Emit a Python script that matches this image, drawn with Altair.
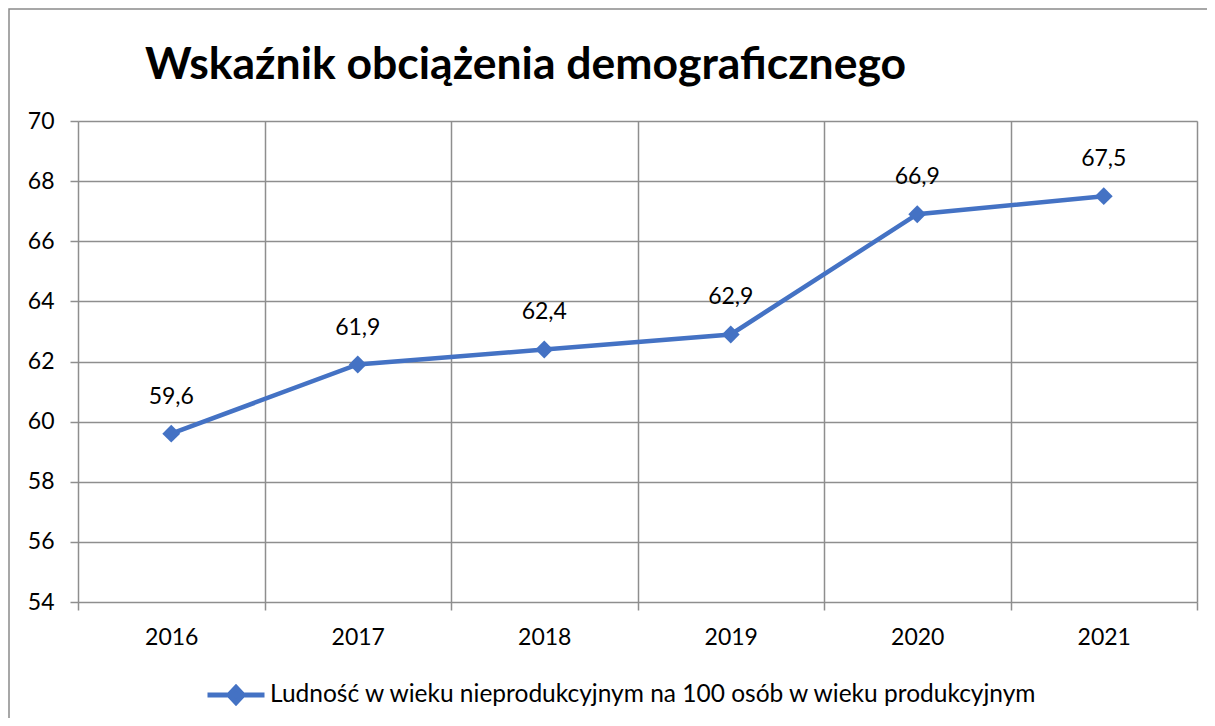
import altair as alt
import pandas as pd

years = ["2016", "2017", "2018", "2019", "2020", "2021"]
values = [59.6, 61.9, 62.4, 62.9, 66.9, 67.5]
series_name = "Ludność w wieku nieprodukcyjnym na 100 osób w wieku produkcyjnym"
y_ticks = [54, 56, 58, 60, 62, 64, 66, 68, 70]
title_text = "Wskaźnik obciążenia demograficznego"

df = pd.DataFrame({"year": years, "value": values, "series": [series_name] * len(years)})

FONT = "Lato"
BLUE = "#4472C4"
GRID = "#8e8e8e"

x_enc = alt.X(
    "year:O",
    scale=alt.Scale(type="band", paddingInner=0, paddingOuter=0),
    axis=alt.Axis(
        title=None, labelAngle=0, tickBand="extent", grid=True, gridColor=GRID,
        gridWidth=1.5, tickColor=GRID, tickWidth=1.5, tickSize=8, domain=False,
        labelFont=FONT, labelFontSize=23, labelColor="#000000", labelPadding=16,
    ),
)
y_enc = alt.Y(
    "value:Q",
    scale=alt.Scale(domain=[54, 70], nice=False, zero=False),
    axis=alt.Axis(
        title=None, values=y_ticks, grid=True, gridColor=GRID, gridWidth=1.5,
        tickColor=GRID, tickWidth=1.5, tickSize=8, domain=False,
        labelFont=FONT, labelFontSize=23, labelColor="#000000", labelPadding=16,
    ),
)

color_enc = alt.Color(
    "series:N",
    scale=alt.Scale(range=[BLUE]),
    legend=alt.Legend(
        title=None, orient="none", direction="horizontal", legendX=127, legendY=543,
        symbolType="M-1,0L1,0M-0.25,0L0,-0.27L0.25,0L0,0.27Z",
        symbolSize=3249, symbolStrokeWidth=5, symbolStrokeColor=BLUE,
        symbolFillColor=BLUE, labelFont=FONT, labelFontSize=24.5,
        labelColor="#000000", labelLimit=1200, labelOffset=3,
    ),
)

base = alt.Chart(df)

frame = alt.Chart(pd.DataFrame({"a": [0]})).mark_rect(
    fill=None, stroke="#8a8a8a", strokeWidth=1.5
).encode(
    x=alt.value(-69), x2=alt.value(1134), y=alt.value(-112), y2=alt.value(640)
)

line = base.mark_line(color=BLUE, strokeWidth=4.5).encode(x=x_enc, y=y_enc)
points = base.mark_point(shape="diamond", filled=True, size=320, opacity=1).encode(
    x=x_enc, y=y_enc, color=color_enc
)
labels = base.transform_calculate(
    lab="replace(format(datum.value, '.1f'), '.', ',')"
).mark_text(font=FONT, fontSize=23, color="#000000", baseline="middle", dy=-37).encode(
    x=x_enc, y=y_enc, text="lab:N"
)

chart = alt.layer(frame, line, points, labels).properties(
    width=1119,
    height=481,
    autosize=alt.AutoSizeParams(type="none"),
    padding={"left": 70, "top": 113, "right": 10, "bottom": 116},
    title=alt.TitleParams(
        title_text, font=FONT, fontSize=44.5, fontWeight="bold", color="#000000",
        anchor="start", frame="group", dx=67, offset=-115, baseline="alphabetic",
    ),
).configure_view(stroke=GRID, strokeWidth=1.5).configure(background="white")

chart.save("out.html", embed_options={"renderer": "svg", "actions": False})
